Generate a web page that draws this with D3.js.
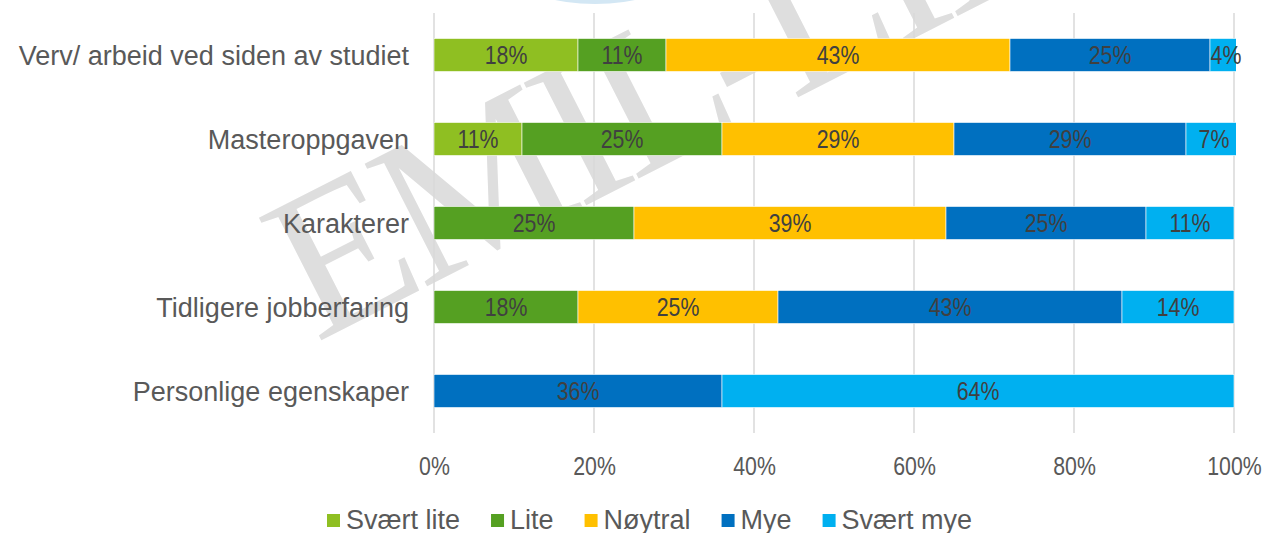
<!DOCTYPE html>
<html>
<head>
<meta charset="utf-8">
<script src="https://cdn.jsdelivr.net/npm/d3@7/dist/d3.min.js"></script>
<style>
  body { margin: 0; background: #fff; }
  svg { display: block; }
  .cat { font-family: "Liberation Sans", Arial, sans-serif; font-size: 27px; fill: #595959; }
  .tick-lbl { font-family: "Liberation Sans", Arial, sans-serif; font-size: 26px; fill: #595959; }
  .val { font-family: "Liberation Sans", Arial, sans-serif; font-size: 26px; fill: #404040; }
  .leg { font-family: "Liberation Sans", Arial, sans-serif; font-size: 27px; fill: #595959; }
</style>
</head>
<body>
<svg width="1265" height="533"></svg>
<script>
// categories top to bottom
const categories = ["Verv/ arbeid ved siden av studiet", "Masteroppgaven", "Karakterer", "Tidligere jobberfaring", "Personlige egenskaper"];
const seriesNames = ["Svært lite", "Lite", "Nøytral", "Mye", "Svært mye"];
const seriesColors = ["#8fbf22", "#55a022", "#ffc000", "#0070c0", "#00b0f0"];

// percent values per series, in category order
const sværtLite = [18, 11, 0, 0, 0];
const lite      = [11, 25, 25, 18, 0];
const noytral   = [43, 29, 39, 25, 0];
const mye       = [25, 29, 25, 43, 36];
const sværtMye  = [4, 7, 11, 14, 64];

const xTicks = [0, 20, 40, 60, 80, 100];

const seriesValues = [sværtLite, lite, noytral, mye, sværtMye];

const svg = d3.select("svg");
const margin = {top: 13, left: 434, right: 31, bottom: 100};
const width = 1265 - margin.left - margin.right,
      height = 533 - margin.top - margin.bottom;
const narrow = "scale(0.82,1)";

// bit of logo peeking in at the top
svg.append("ellipse")
    .attr("cx", 595).attr("cy", -22).attr("rx", 75).attr("ry", 26)
    .attr("fill", "#d3e7f4");

// watermark behind everything
svg.append("text")
    .attr("transform", "translate(316,343) rotate(-27)")
    .attr("font-family", "Liberation Serif, serif")
    .attr("font-size", 210)
    .attr("letter-spacing", -9.6)
    .attr("fill", "#dedede")
    .text("EMIL-LIN");

const g = svg.append("g").attr("transform", "translate(" + margin.left + "," + margin.top + ")");

const x = d3.scaleLinear().domain([0, 100]).range([0, width]);
const y = d3.scaleBand().domain(categories).range([0, height]).paddingInner(0.607).paddingOuter(0.3035);

// gridlines
g.append("g")
  .selectAll("line")
  .data(xTicks)
  .join("line")
    .attr("x1", d => x(d)).attr("x2", d => x(d))
    .attr("y1", 0).attr("y2", height)
    .attr("stroke", "#d9d9d9")
    .attr("stroke-width", 1.5);

// x axis labels
g.append("g")
    .attr("transform", "translate(0," + height + ")")
    .call(d3.axisBottom(x).tickValues(xTicks).tickFormat(d => d + "%").tickSize(0).tickPadding(0))
    .call(a => a.select(".domain").remove())
    .selectAll("text")
    .attr("class", "tick-lbl")
    .attr("y", 42)
    .attr("dy", 0)
    .attr("transform", narrow)
    .attr("fill", null);

// category labels
g.append("g")
    .call(d3.axisLeft(y).tickSize(0).tickPadding(25))
    .call(a => a.select(".domain").remove())
    .selectAll("text")
    .attr("class", "cat")
    .attr("dy", "0.36em")
    .attr("fill", null);

// stacked data
const rows = categories.map((c, i) => {
  const r = {cat: c};
  seriesNames.forEach((s, j) => r[s] = seriesValues[j][i]);
  return r;
});
const stack = d3.stack().keys(seriesNames)(rows);

svg.append("defs").append("clipPath").attr("id", "plotClip")
  .append("rect").attr("x", 0).attr("y", 0).attr("width", x(100) + 2).attr("height", height);

const layers = g.append("g").attr("clip-path", "url(#plotClip)")
  .selectAll("g")
  .data(stack)
  .join("g")
    .attr("fill", (d, i) => seriesColors[i]);

layers.selectAll("rect")
  .data(d => d.filter(p => p[1] - p[0] > 0))
  .join("rect")
    .attr("x", d => x(d[0]))
    .attr("y", d => y(d.data.cat))
    .attr("width", d => x(d[1]) - x(d[0]))
    .attr("height", y.bandwidth())
    .attr("stroke", "#ffffff")
    .attr("stroke-width", 0.6);

// value labels
const labels = g.append("g");
stack.forEach(layer => {
  labels.selectAll(null)
    .data(layer.filter(p => p[1] - p[0] > 0))
    .join("text")
      .attr("class", "val")
      .attr("transform", d => "translate(" + x((d[0] + d[1]) / 2) + "," + (y(d.data.cat) + y.bandwidth() / 2) + ") " + narrow)
      .attr("dy", "0.36em")
      .attr("text-anchor", "middle")
      .text(d => (d[1] - d[0]) + "%");
});

// legend
const legend = svg.append("g").attr("transform", "translate(327,514)");
let lx = 0;
seriesNames.forEach((s, i) => {
  const item = legend.append("g").attr("transform", "translate(" + lx + ",0)");
  item.append("rect").attr("width", 13).attr("height", 13).attr("fill", seriesColors[i]);
  const t = item.append("text").attr("class", "leg").attr("x", 19).attr("y", 15).text(s);
  lx += 19 + t.node().getComputedTextLength() + 31;
});
</script>
</body>
</html>
